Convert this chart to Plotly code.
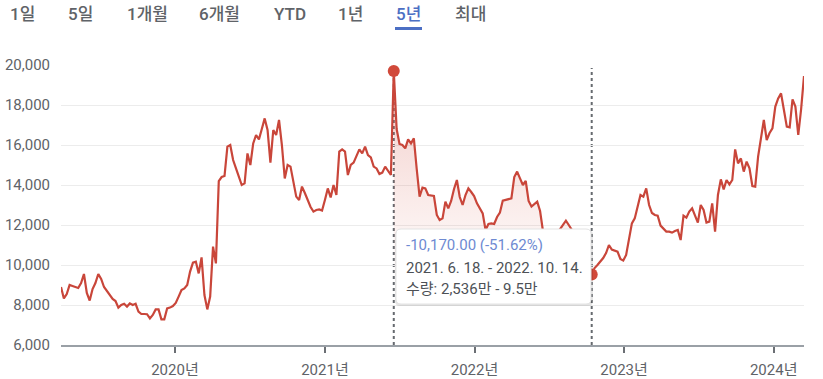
import pandas as pd
import plotly.graph_objects as go

# ---------------- data ----------------
start_date = "2019-03-29"
prices = [
    8900, 8330, 8550, 9000, 8950, 8900, 8850, 9100, 9550, 8600,
    8220, 8800, 9100, 9550, 9300, 8900, 8700, 8450, 8300, 8200,
    7870, 8000, 8060, 7920, 8080, 8000, 8060, 7670, 7550, 7550,
    7540, 7330, 7500, 7780, 7780, 7280, 7280, 7830, 7870, 7950,
    8100, 8420, 8750, 8830, 9000, 9670, 10120, 10170, 9580, 10380,
    8500, 7780, 8420, 10920, 10080, 14200, 14400, 14450, 15920, 16000,
    15250, 14830, 14400, 14000, 14080, 15580, 15000, 16080, 16500, 16280,
    16800, 17330, 16750, 15120, 16750, 16500, 17250, 16000, 14330, 15000,
    14920, 14200, 13420, 13250, 13920, 13600, 13200, 12900, 12670, 12750,
    12780, 12720, 13250, 13830, 13380, 14000, 13500, 15670, 15780, 15670,
    14500, 15000, 15120, 15500, 15780, 15580, 15920, 15500, 15380, 14920,
    14830, 14550, 14620, 14920, 14700, 14500,
    19700, 16800, 16050, 16000, 15830, 16280, 16080, 16330, 14800, 13420,
    13870, 13830, 13500, 13470, 13450, 12500, 12250, 12330, 13170, 12830,
    13200, 13800, 14250, 13400, 13000, 13500, 13830, 13650, 13450, 13080,
    12800, 12580, 11750, 12050, 12080, 12050, 12400, 12620, 13220, 13250,
    13300, 13330, 14400, 14670, 14330, 14000, 14200, 13200, 12920, 13050,
    13170, 12700, 11700, 11000, 10600, 10800, 11300, 11600, 11830, 12050,
    12220, 12000, 11780, 11400, 11000, 10600, 10300, 10000, 9800, 9530,
    9850, 10000, 10170, 10350, 10600, 11000, 10770, 10700, 10670, 10300,
    10220, 10500, 11300, 12080, 12330, 12900, 13500, 13420, 13830, 13000,
    12600, 12500, 12470, 11970, 11800, 11670, 11670, 11620, 11700, 11750,
    11250, 12470, 12370, 12670, 12830, 12500, 12120, 13000, 12750, 12120,
    12170, 13080, 11670, 13500, 14280, 13780, 14250, 14030, 14250, 15780,
    15080, 15330, 14670, 15170, 14830, 13950, 13920, 15420, 16400, 17250,
    16250, 16600, 16830, 17920, 18330, 18580, 17750, 16920, 16880, 18280,
    17920, 16500, 17800, 19450,
]
range_start = "2021-06-18"
range_end = "2022-10-14"
volume_text = "수량: 2,536만 - 9.5만"

tabs = ["1일", "5일", "1개월", "6개월", "YTD", "1년", "5년", "최대"]
active_tab = "5년"

year_ticks = ["2020-01-01", "2021-01-01", "2022-01-01", "2023-01-01", "2024-01-01"]
year_labels = ["2020년", "2021년", "2022년", "2023년", "2024년"]
y_ticks = [6000, 8000, 10000, 12000, 14000, 16000, 18000, 20000]

# ---------------- build ----------------
dates = pd.date_range(start_date, periods=len(prices), freq="7D")
s = pd.Series(prices, index=dates)
seg = s[range_start:range_end]
v0, v1 = seg.iloc[0], seg.iloc[-1]
chg = v1 - v0
pct = chg / v0 * 100

RED = "#c9463a"
GRAY = "#5f6368"
FONT = "Roboto, 'Noto Sans CJK KR', sans-serif"

# pixel helpers for layout decorations
L, R, T, B = 61, 804, 65, 345
W, H = R - L, B - T


def pxx(x):
    return (x - L) / W


def pxy(y):
    return (B - y) / H


def rounded(x0, y0, x1, y1, r):
    pts = [
        f"M {pxx(x0 + r)} {pxy(y0)}",
        f"L {pxx(x1 - r)} {pxy(y0)}",
        f"Q {pxx(x1)} {pxy(y0)} {pxx(x1)} {pxy(y0 + r)}",
        f"L {pxx(x1)} {pxy(y1 - r)}",
        f"Q {pxx(x1)} {pxy(y1)} {pxx(x1 - r)} {pxy(y1)}",
        f"L {pxx(x0 + r)} {pxy(y1)}",
        f"Q {pxx(x0)} {pxy(y1)} {pxx(x0)} {pxy(y1 - r)}",
        f"L {pxx(x0)} {pxy(y0 + r)}",
        f"Q {pxx(x0)} {pxy(y0)} {pxx(x0 + r)} {pxy(y0)}",
        "Z",
    ]
    return " ".join(pts)


fig = go.Figure()

# gradient fill under selected range
fig.add_trace(go.Scatter(
    x=seg.index, y=seg.values, mode="lines", line=dict(width=0, color=RED),
    fill="tozeroy",
    fillgradient=dict(type="vertical", start=9000, stop=19700,
                      colorscale=[[0, "rgba(210,75,60,0.0)"], [1, "rgba(210,75,60,0.28)"]]),
    hoverinfo="skip", showlegend=False,
))

# price line
fig.add_trace(go.Scatter(
    x=s.index, y=s.values, mode="lines",
    line=dict(color=RED, width=2.2),
    hoverinfo="skip", showlegend=False,
))

# endpoint markers
fig.add_trace(go.Scatter(
    x=[seg.index[0], seg.index[-1]], y=[v0, v1], mode="markers",
    marker=dict(color="#d1493a", size=12),
    cliponaxis=False, hoverinfo="skip", showlegend=False,
))

shapes = []
# dotted range lines
for d in [range_start, range_end]:
    shapes.append(dict(type="line", xref="x", yref="y", x0=d, x1=d, y0=6000, y1=19850,
                       line=dict(color="#666a6f", width=2, dash="dot"), layer="below"))

# tooltip box with shadow
shapes.append(dict(type="path", xref="paper", yref="paper",
                   path=rounded(395, 230, 593, 306, 5),
                   fillcolor="rgba(0,0,0,0.10)", line=dict(width=0), layer="above"))
shapes.append(dict(type="path", xref="paper", yref="paper",
                   path=rounded(396, 229, 591, 304, 5),
                   fillcolor="white", line=dict(color="#e3e3e3", width=1), layer="above"))

# tab underline
shapes.append(dict(type="line", xref="paper", yref="paper",
                   x0=pxx(395), x1=pxx(422), y0=pxy(28.5), y1=pxy(28.5),
                   line=dict(color="#4c6fc4", width=3)))

annotations = []
tab_centers = [22, 80, 147, 219, 290, 350, 408, 470]
for t, cx in zip(tabs, tab_centers):
    annotations.append(dict(
        text=t, xref="paper", yref="paper", x=0, y=1,
        xshift=cx - L, yshift=T - 14,
        xanchor="center", yanchor="middle", showarrow=False,
        font=dict(family=FONT, size=17, weight=500,
                  color="#4c6fc4" if t == active_tab else GRAY),
    ))

tip_lines = [
    (f"{chg:,.2f} ({pct:.2f}%)", "#6e8ad2", 245),
    (f"{pd.Timestamp(range_start).year}. {pd.Timestamp(range_start).month}. {pd.Timestamp(range_start).day}. - "
     f"{pd.Timestamp(range_end).year}. {pd.Timestamp(range_end).month}. {pd.Timestamp(range_end).day}.", "#4d5156", 268),
    (volume_text, "#4d5156", 289),
]
for txt, col, yy in tip_lines:
    annotations.append(dict(
        text=txt, xref="paper", yref="paper", x=pxx(404), y=pxy(yy),
        xanchor="left", yanchor="middle", showarrow=False,
        font=dict(family=FONT, size=15, color=col),
    ))

fig.update_layout(
    width=823, height=379, autosize=False,
    margin=dict(l=L, r=823 - R, t=T, b=379 - B, autoexpand=False),
    paper_bgcolor="white", plot_bgcolor="white",
    shapes=shapes, annotations=annotations,
    xaxis=dict(
        type="date", range=[dates[0], dates[-1]], automargin=False,
        tickvals=year_ticks, ticktext=year_labels,
        ticks="outside", ticklen=6, tickwidth=2, tickcolor="#6b6f74",
        showgrid=False, zeroline=False,
        showline=True, linecolor="#9aa0a6", linewidth=1.5,
        tickfont=dict(family=FONT, size=15, color=GRAY),
        ticklabelstandoff=4,
    ),
    yaxis=dict(
        range=[6000, 20000], tickvals=y_ticks, automargin=False,
        tickformat=",d", showgrid=True, gridcolor="#ececec", gridwidth=1,
        zeroline=False, showline=False, ticks="",
        tickfont=dict(family=FONT, size=15, color=GRAY),
        ticklabelstandoff=10,
    ),
    hovermode=False,
)

fig.write_html(
    "out.html",
    config={"displayModeBar": False, "staticPlot": True},
    post_script="document.body.style.margin='0';document.body.style.overflow='hidden';",
)
